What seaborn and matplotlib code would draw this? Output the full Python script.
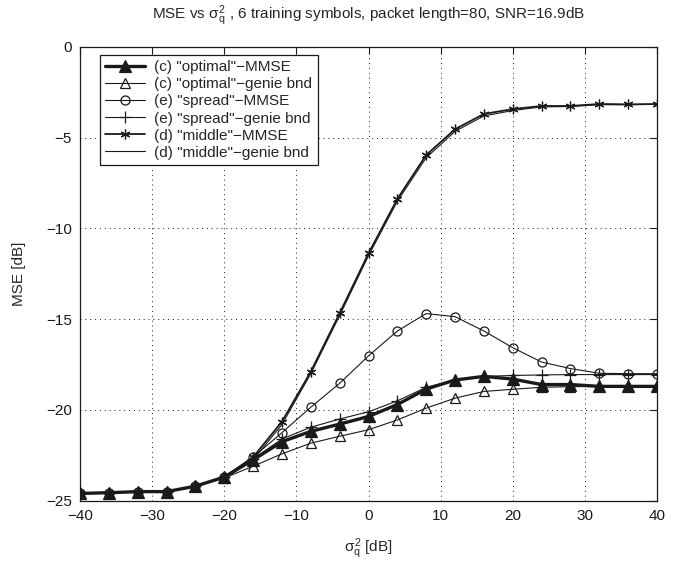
import matplotlib
matplotlib.use("Agg")
import matplotlib.pyplot as plt
import seaborn as sns

# === Data ===
sigma_q2_db = [-40, -36, -32, -28, -24, -20, -16, -12, -8, -4, 0,
               4, 8, 12, 16, 20, 24, 28, 32, 36, 40]

optimal_mmse = [-24.6, -24.56, -24.5, -24.5, -24.2, -23.7, -22.75, -21.75, -21.18, -20.78, -20.36,
                -19.7, -18.85, -18.35, -18.15, -18.3, -18.6, -18.6, -18.7, -18.7, -18.7]
optimal_genie = [-24.6, -24.56, -24.5, -24.5, -24.2, -23.75, -23.1, -22.42, -21.83, -21.45, -21.09,
                 -20.55, -19.9, -19.35, -18.98, -18.86, -18.75, -18.72, -18.7, -18.7, -18.7]
spread_mmse = [-24.6, -24.56, -24.5, -24.5, -24.2, -23.7, -22.6, -21.25, -19.85, -18.53, -17.02,
               -15.65, -14.69, -14.86, -15.65, -16.57, -17.36, -17.72, -17.98, -18.0, -18.0]
spread_genie = [-24.6, -24.56, -24.5, -24.5, -24.2, -23.7, -22.7, -21.6, -20.95, -20.5, -20.1,
                -19.5, -18.75, -18.35, -18.15, -18.1, -18.07, -18.05, -18.05, -18.05, -18.05]
middle_mmse = [-24.6, -24.56, -24.5, -24.5, -24.2, -23.7, -22.6, -20.64, -17.89, -14.67, -11.37,
               -8.37, -5.95, -4.53, -3.69, -3.42, -3.25, -3.25, -3.14, -3.16, -3.14]
middle_genie = [-24.6, -24.56, -24.5, -24.5, -24.2, -23.75, -22.75, -20.8, -18.0, -14.8, -11.5,
                -8.5, -6.1, -4.65, -3.8, -3.5, -3.3, -3.28, -3.18, -3.18, -3.16]

labels = ['(c) "optimal"\u2212MMSE', '(c) "optimal"\u2212genie bnd',
          '(e) "spread"\u2212MMSE', '(e) "spread"\u2212genie bnd',
          '(d) "middle"\u2212MMSE', '(d) "middle"\u2212genie bnd']

x_ticks = [-40, -30, -20, -10, 0, 10, 20, 30, 40]
y_ticks = [-25, -20, -15, -10, -5, 0]

# === Style ===
sns.set_theme(style="white")
plt.rcParams["font.family"] = ["Liberation Sans", "DejaVu Sans"]
plt.rcParams["mathtext.fontset"] = "custom"
plt.rcParams["mathtext.rm"] = "Liberation Sans"
plt.rcParams["mathtext.it"] = "Liberation Sans"
plt.rcParams["axes.unicode_minus"] = True

fig = plt.figure(figsize=(6.9, 5.61), dpi=100)
ax = fig.add_axes([80 / 690, 1 - 500.7 / 561, 577 / 690, 453.7 / 561])

asterisk = (6, 2, 0)
series = [
    (optimal_mmse, dict(marker="^", markersize=9, markerfacecolor="k", lw=2.4, zorder=6)),
    (optimal_genie, dict(marker="^", markersize=7, markerfacecolor="none", lw=0.8, zorder=4)),
    (spread_mmse, dict(marker="o", markersize=6.5, markerfacecolor="none", lw=0.8, zorder=4)),
    (spread_genie, dict(marker="+", markersize=9, lw=0.8, zorder=4)),
    (middle_mmse, dict(marker=asterisk, markersize=7, lw=1.3, zorder=5)),
    (middle_genie, dict(marker=None, lw=0.8, zorder=4)),
]

for (vals, kw), lab in zip(series, labels):
    sns.lineplot(x=sigma_q2_db, y=vals, ax=ax, color="k", label=lab,
                 markeredgecolor="k", markeredgewidth=0.9, **kw)

ax.set_xlim(-40, 40)
ax.set_ylim(-25, 0)
ax.set_xticks(x_ticks)
ax.set_yticks(y_ticks)
ax.grid(True, linestyle=(0, (1, 4)), color="k", linewidth=0.7)
ax.tick_params(direction="in", top=True, right=True, length=5, width=0.8,
               labelsize=11, colors="k", pad=6)
for s in ax.spines.values():
    s.set_color("k")
    s.set_linewidth(0.9)

ax.set_title(r"MSE vs $\sigma_q^2$ , 6 training symbols, packet length=80, SNR=16.9dB",
             fontsize=11, pad=20)
ax.set_xlabel(r"$\sigma_q^2$ [dB]", fontsize=11, labelpad=10)
ax.set_ylabel("MSE [dB]", fontsize=11, labelpad=14)

leg = ax.legend(loc="upper left", bbox_to_anchor=(20 / 577, 1 - 8 / 453.7),
                borderaxespad=0, fancybox=False, framealpha=1, edgecolor="k",
                fontsize=11, handlelength=2.6, labelspacing=0.2,
                borderpad=0.35, handletextpad=0.6)
leg.get_frame().set_linewidth(0.9)

plt.savefig("out.png", dpi=100)
plt.close()
